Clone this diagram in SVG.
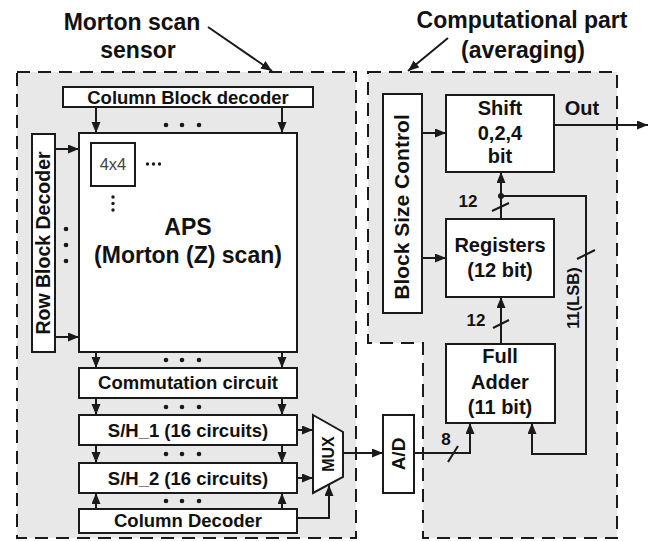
<svg xmlns="http://www.w3.org/2000/svg" width="650" height="541" viewBox="0 0 650 541">
<defs>
<style>
.region{fill:#e8e8e8;stroke:#1a1a1a;stroke-width:2;stroke-dasharray:13 8}
.box{fill:#fff;stroke:#1a1a1a;stroke-width:2}
.ln{fill:none;stroke:#1a1a1a;stroke-width:2}
.arr{marker-end:url(#ah)}
.dot{fill:#1a1a1a}
text{font-family:"Liberation Sans",Arial,sans-serif;font-weight:bold;fill:#111;text-anchor:middle}
.t18{font-size:18.5px}
.t20{font-size:20px}
.t23{font-size:23px}
.t17{font-size:17px}
</style>
<marker id="ah" markerUnits="userSpaceOnUse" markerWidth="12" markerHeight="10" refX="11" refY="4.5" orient="auto">
<path d="M0,0 L11,4.5 L0,9 z" fill="#1a1a1a"/>
</marker>
</defs>
<rect width="650" height="541" fill="#fff"/>
<g id="region-sensor"><rect class="region" x="17" y="72" width="339" height="466"/></g>
<g id="region-comp"><path class="region" d="M368,72 H617 V538 H423 V343 H368 Z"/></g>
<g id="labels">
<text class="t23" x="132" y="30">Morton scan</text>
<text class="t23" x="138" y="58">sensor</text>
<text class="t23" x="522" y="28">Computational part</text>
<text class="t23" x="523" y="58">(averaging)</text>
</g>
<g id="col-block-decoder"><rect class="box" x="63" y="87" width="250" height="20"/><text class="t18" x="188" y="103.5">Column Block decoder</text></g>
<g id="aps"><rect class="box" x="79" y="133" width="218" height="219"/>
<text class="t23" x="188" y="235">APS</text><text class="t23" x="188" y="263">(Morton (Z) scan)</text></g>
<g id="block4x4"><rect class="box" x="91" y="143" width="44" height="43"/><text x="113" y="170" style="font-weight:normal;font-size:16.5px;fill:#444">4x4</text>
<circle class="dot" cx="147.5" cy="164" r="1.7"/><circle class="dot" cx="153.5" cy="164" r="1.7"/><circle class="dot" cx="159.5" cy="164" r="1.7"/>
<circle class="dot" cx="113" cy="197" r="1.7"/><circle class="dot" cx="113" cy="203.5" r="1.7"/><circle class="dot" cx="113" cy="210" r="1.7"/></g>
<g id="row-block-decoder"><rect class="box" x="32" y="134" width="23" height="218"/><text class="t18" style="font-size:19.5px" transform="translate(50,243) rotate(-90)">Row Block Decoder</text></g>
<g id="commutation"><rect class="box" x="79" y="368" width="218" height="30"/><text class="t18" x="188" y="389">Commutation circuit</text></g>
<g id="sh1"><rect class="box" x="79" y="415" width="218" height="30"/><text class="t18" x="188" y="437">S/H_1 (16 circuits)</text></g>
<g id="sh2"><rect class="box" x="79" y="463" width="218" height="30"/><text class="t18" x="188" y="485">S/H_2 (16 circuits)</text></g>
<g id="col-decoder"><rect class="box" x="79" y="509" width="218" height="24"/><text class="t18" x="188" y="527">Column Decoder</text></g>
<g id="mux"><polygon class="box" points="313,415 343,432 343,477 313,493"/><text style="font-size:16px" transform="translate(334,454) rotate(-90)">MUX</text></g>
<g id="adc"><rect class="box" x="383" y="415" width="31" height="78"/><text style="font-size:19px" transform="translate(405,454) rotate(-90)">A/D</text></g>
<g id="full-adder"><rect class="box" x="446" y="344" width="109" height="79"/>
<text class="t20" x="500" y="363">Full</text><text class="t20" x="500" y="389">Adder</text><text class="t20" x="500" y="414">(11 bit)</text></g>
<g id="registers"><rect class="box" x="446" y="219" width="108" height="78"/>
<text class="t20" x="500" y="252">Registers</text><text class="t20" x="500" y="277">(12 bit)</text></g>
<g id="shift"><rect class="box" x="446" y="95" width="108" height="77"/>
<text class="t20" x="500" y="115">Shift</text><text class="t20" x="500" y="140">0,2,4</text><text class="t20" x="500" y="163">bit</text></g>
<g id="block-size-control"><rect class="box" x="383" y="94" width="39" height="219"/><text style="font-size:21px" transform="translate(409,207) rotate(-90)">Block Size Control</text></g>
<g id="connectors">
<line class="ln arr" x1="96" y1="107" x2="96" y2="133"/>
<line class="ln arr" x1="282" y1="107" x2="282" y2="133"/>
<circle class="dot" cx="166" cy="125" r="2.3"/><circle class="dot" cx="182" cy="125" r="2.3"/><circle class="dot" cx="199" cy="125" r="2.3"/>
<line class="ln arr" x1="55" y1="149" x2="79" y2="149"/>
<line class="ln arr" x1="55" y1="337" x2="79" y2="337"/>
<circle class="dot" cx="66" cy="229" r="2.3"/><circle class="dot" cx="66" cy="245" r="2.3"/><circle class="dot" cx="66" cy="261" r="2.3"/>
<line class="ln arr" x1="96" y1="352" x2="96" y2="368"/>
<line class="ln arr" x1="282" y1="352" x2="282" y2="368"/>
<circle class="dot" cx="166" cy="360" r="2.3"/><circle class="dot" cx="182" cy="360" r="2.3"/><circle class="dot" cx="199" cy="360" r="2.3"/>
<line class="ln arr" x1="96" y1="398" x2="96" y2="415"/>
<line class="ln arr" x1="282" y1="398" x2="282" y2="415"/>
<circle class="dot" cx="166" cy="407" r="2.3"/><circle class="dot" cx="182" cy="407" r="2.3"/><circle class="dot" cx="199" cy="407" r="2.3"/>
<line class="ln arr" x1="96" y1="445" x2="96" y2="463"/>
<line class="ln arr" x1="282" y1="445" x2="282" y2="463"/>
<circle class="dot" cx="166" cy="454" r="2.3"/><circle class="dot" cx="182" cy="454" r="2.3"/><circle class="dot" cx="199" cy="454" r="2.3"/>
<line class="ln arr" x1="96" y1="509" x2="96" y2="493"/>
<line class="ln arr" x1="282" y1="509" x2="282" y2="493"/>
<circle class="dot" cx="166" cy="501" r="2.3"/><circle class="dot" cx="182" cy="501" r="2.3"/><circle class="dot" cx="199" cy="501" r="2.3"/>
<line class="ln arr" x1="297" y1="430" x2="313" y2="430"/>
<line class="ln arr" x1="297" y1="478" x2="313" y2="478"/>
<path class="ln arr" d="M297,518 H329 V485"/>
<line class="ln arr" x1="343" y1="453" x2="383" y2="453"/>
<path class="ln arr" d="M414,453 H470 V423"/>
<line class="ln" x1="448" y1="462" x2="458" y2="446"/>
<text class="t17" x="446" y="445">8</text>
<path class="ln arr" d="M501,196 H586 V454 H532 V423"/>
<circle class="dot" cx="501" cy="196" r="3"/>
<line class="ln" x1="577" y1="259" x2="595" y2="250"/>
<text class="t17" style="font-size:16.5px" transform="translate(579,298) rotate(-90)">11(LSB)</text>
<line class="ln arr" x1="501" y1="344" x2="501" y2="297"/>
<line class="ln" x1="493" y1="328" x2="509" y2="320"/>
<text class="t17" x="476" y="326">12</text>
<line class="ln arr" x1="501" y1="219" x2="501" y2="172"/>
<line class="ln" x1="492" y1="211" x2="509" y2="203"/>
<text class="t17" x="468" y="207">12</text>
<line class="ln arr" x1="554" y1="125" x2="648" y2="125"/>
<text class="t20" x="582" y="115">Out</text>
<line class="ln arr" x1="422" y1="133" x2="446" y2="133"/>
<line class="ln arr" x1="422" y1="258" x2="446" y2="258"/>
<line class="ln arr" x1="208" y1="27" x2="272" y2="71"/>
<line class="ln arr" x1="448" y1="38" x2="408" y2="71"/>
</g>
</svg>
